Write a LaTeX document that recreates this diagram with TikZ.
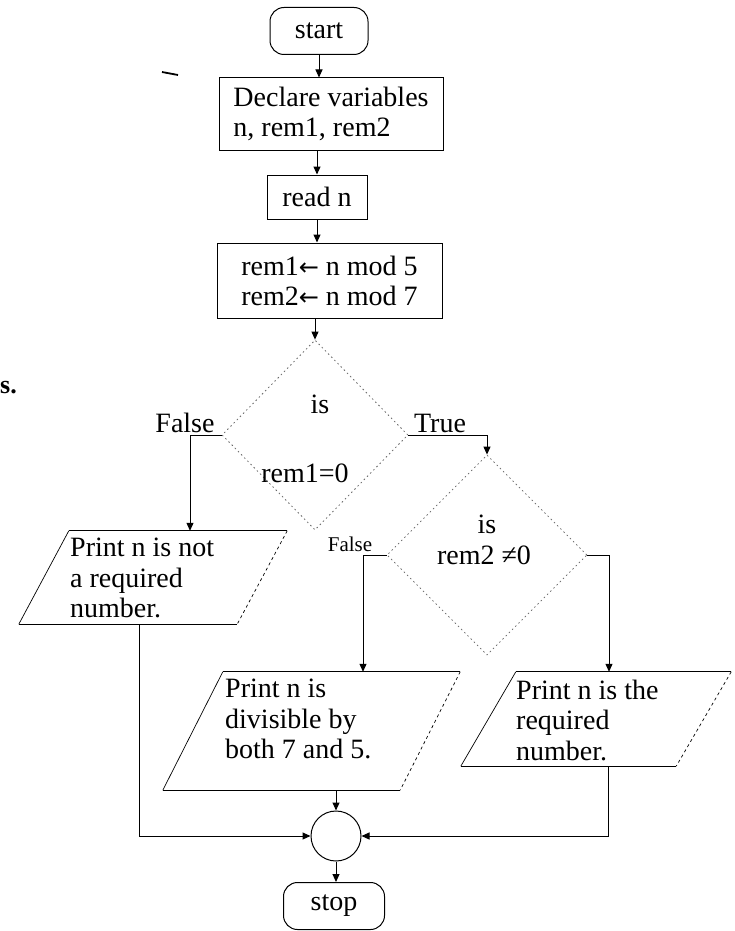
\documentclass[tikz,border=0pt]{standalone}
\usepackage{fontspec}
\setmainfont{Liberation Serif}
\newfontfamily\arrowfont{DejaVu Sans}
\usetikzlibrary{arrows.meta,calc,shapes.geometric}
\newcommand\drawpara[2]{%
  \draw[line] ([xshift=#2]#1.north west) -- ([xshift=#2]#1.north east);
  \draw[line] ([xshift=-#2]#1.south west) -- ([xshift=-#2]#1.south east);
  \draw[side] ([xshift=#2]#1.north west) -- ([xshift=-#2]#1.south west);
  \draw[side, dashed] ([xshift=#2]#1.north east) -- ([xshift=-#2]#1.south east);
}
\newcommand\larr{{\arrowfont\fontsize{24}{30}\selectfont ←}}
\begin{document}
\begin{tikzpicture}[x=1pt,y=-1pt,
  every node/.style={font=\fontsize{28}{30}\selectfont, inner sep=0pt},
  box/.style={draw, line width=1pt},
  term/.style={draw, line width=1pt, rounded corners=14pt, minimum width=98pt, minimum height=47pt},
  dec/.style={diamond, draw=black!60, line width=0.8pt, dash pattern=on 1.5pt off 3pt},
  flow/.style={line width=1pt, -{Triangle[length=8pt,width=7pt]}},
  line/.style={line width=1pt},
  side/.style={line width=0.7pt},
  txt/.style={align=left, font=\fontsize{28}{30.5}\selectfont},
  small/.style={font=\fontsize{21}{24}\selectfont}
]
\fill[white] (0,0) rectangle (735,931);
\useasboundingbox (0,0) rectangle (735,931);

% main column
\node[term] (start) at (319,31) {start};
\node[box, minimum width=224pt, minimum height=72pt, align=left] (decl) at (331,114) {Declare variables\\n, rem1, rem2};
\node[box, minimum width=100pt, minimum height=44pt] (read) at (317,197) {read n};
\node[box, minimum width=225pt, minimum height=75pt, align=center] (rem) at (329.5,280.5) {rem1\larr\ n mod 5\\rem2\larr\ n mod 7};

% decisions
\node[dec, minimum width=186pt, minimum height=190pt] (d1) at (315,435) {};
\node[anchor=base] (d1a) at (320,413) {is};
\node[anchor=base] (d1b) at (305,482) {rem1=0};
\node[dec, minimum width=200pt, minimum height=200pt] (d2) at (487,555) {};
\node[anchor=base] (d2a) at (487,533) {is};
\node[anchor=base] (d2b) at (484,564) {rem2 ≠0};

% labels
\node[anchor=base] (lf1) at (185,432) {False};
\node[anchor=base] (lt1) at (440,432) {True};
\node[anchor=base, small] (lf2) at (350,551) {False};

% input/output
\node[minimum width=218pt, minimum height=93pt] (p1) at (153,577.5) {};
\node[minimum width=237pt, minimum height=118pt] (p2) at (311.5,731) {};
\node[minimum width=215pt, minimum height=94pt] (p3) at (596,719) {};
\drawpara{p1}{25pt}
\drawpara{p2}{30pt}
\drawpara{p3}{27.5pt}
\node[txt, anchor=west] (t1) at (70,578) {Print n is not\\a required\\number.};
\node[txt, anchor=west] (t2) at (225,719) {Print n is\\divisible by\\both 7 and 5.};
\node[txt, anchor=west] (t3) at (516,720) {Print n is the\\required\\number.};

% connector and stop
\node[circle, draw, line width=1pt, minimum size=50pt] (c) at (336,836) {};
\node[term, minimum width=101pt] (stop) at (334,906) {stop};

% stray marks of the scan
\node[anchor=west, font=\bfseries\fontsize{26}{28}\selectfont] (s) at (0,388) {s.};
\draw[line width=1.8pt] (162,72) -- (178,75);

% flow lines
\draw[flow] (start.south) -- (start.south |- decl.north);
\draw[flow] (read.north |- decl.south) -- (read.north);
\draw[flow] (read.south) -- (read.south |- rem.north);
\draw[flow] (d1.north |- rem.south) -- (d1.north);
\coordinate (fL) at (190,435);
\draw[flow] (d1.west) -- (fL) -- (fL |- p1.north);
\coordinate (tR) at (d2.north |- d1.east);
\draw[flow] (d1.east) -- (tR) -- (d2.north);
\coordinate (fL2) at (363,555);
\draw[flow] (d2.west) -- (fL2) -- (fL2 |- p2.north);
\coordinate (tR2) at (609,555);
\draw[flow] (d2.east) -- (tR2) -- (tR2 |- p3.north);
\coordinate (j1) at (139,836);
\draw[flow] (j1 |- p1.south) -- (j1) -- (c.west);
\draw[flow] (c.north |- p2.south) -- (c.north);
\coordinate (j3) at (608,836);
\draw[flow] (j3 |- p3.south) -- (j3) -- (c.east);
\draw[flow] (c.south) -- (c.south |- stop.north);
\end{tikzpicture}
\end{document}
